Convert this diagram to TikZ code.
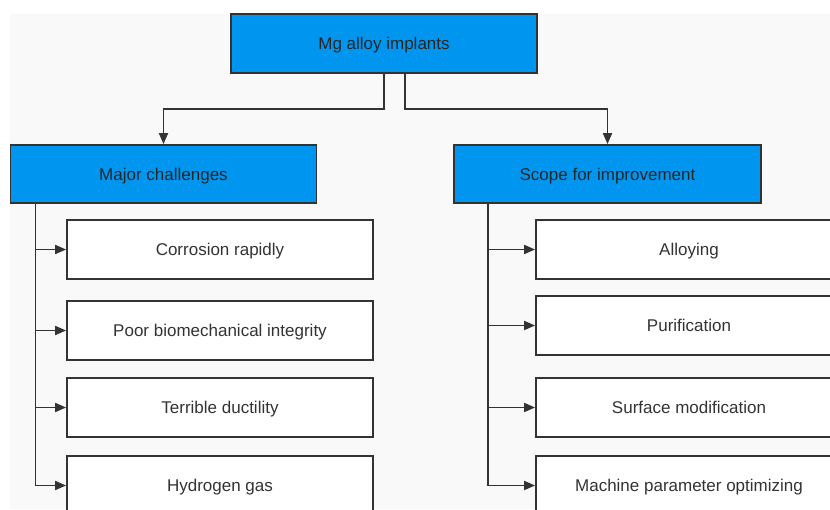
\documentclass[tikz,border=0pt]{standalone}
\usepackage{fontspec}
\setmainfont{Liberation Sans}
\usetikzlibrary{arrows.meta}
\definecolor{bluefill}{RGB}{0,150,240}
\definecolor{linegray}{RGB}{51,51,51}
\definecolor{bggray}{RGB}{249,249,249}
\tikzset{
  box/.style={draw=linegray, line width=1.8pt, minimum width=306pt, minimum height=59pt,
    inner sep=0pt, text height=12pt, text depth=0pt, text=linegray,
    font=\fontsize{17}{20}\selectfont, fill=white},
  headbox/.style={box, fill=bluefill, text=black!85},
  arr/.style={draw=linegray, line width=1.8pt, -{Triangle[length=11pt,width=9pt]}}
}
\begin{document}
\begin{tikzpicture}[x=1pt,y=-1pt]
\useasboundingbox (0,0) rectangle (830,509);
\clip (0,0) rectangle (830,509);
\fill[white] (0,0) rectangle (830,509);
\fill[bggray] (10,14) rectangle (830,509);

\node[headbox] (top) at (384,43.5) {Mg alloy implants};
\node[headbox, minimum height=58pt] (major) at (163.5,174) {Major challenges};
\node[headbox, minimum height=58pt, minimum width=307pt] (scope) at (607.5,174) {Scope for improvement};

\node[box] (c1) at (220,249.5) {Corrosion rapidly};
\node[box] (c2) at (220,330.5) {Poor biomechanical integrity};
\node[box] (c3) at (220,407.5) {Terrible ductility};
\node[box] (c4) at (220,485.5) {Hydrogen gas};

\node[box] (s1) at (689,249.5) {Alloying};
\node[box] (s2) at (689,325.5) {Purification};
\node[box] (s3) at (689,407.5) {Surface modification};
\node[box] (s4) at (689,485.5) {Machine parameter optimizing};

\draw[arr] (top.south) -- ++(0,35) -| (major.north);
\draw[arr] ([xshift=21pt]top.south) -- ++(0,35) -| (scope.north);

\draw[arr] ([xshift=-128pt]major.south) |- (c1.west);
\draw[arr] ([xshift=-128pt]major.south) |- (c2.west);
\draw[arr] ([xshift=-128pt]major.south) |- (c3.west);
\draw[arr] ([xshift=-128pt]major.south) |- (c4.west);

\draw[arr] ([xshift=-119.5pt]scope.south) |- (s1.west);
\draw[arr] ([xshift=-119.5pt]scope.south) |- (s2.west);
\draw[arr] ([xshift=-119.5pt]scope.south) |- (s3.west);
\draw[arr] ([xshift=-119.5pt]scope.south) |- (s4.west);
\end{tikzpicture}
\end{document}
